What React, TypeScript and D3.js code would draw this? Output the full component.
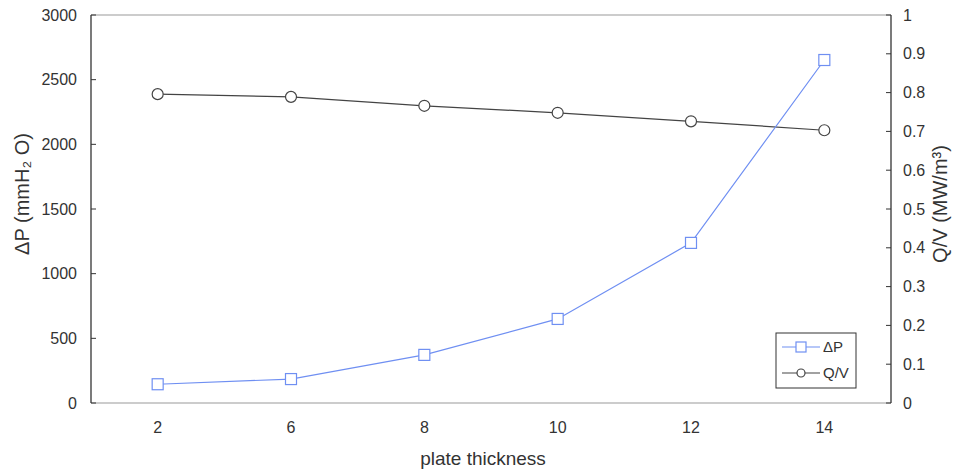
import * as d3 from "d3";

const thickness = ["2", "6", "8", "10", "12", "14"];
const deltaP = [145, 185, 372, 650, 1238, 2652];
const qv = [0.796, 0.789, 0.766, 0.748, 0.726, 0.703];
const leftTicks = [0, 500, 1000, 1500, 2000, 2500, 3000];
const rightTicks = [0, 0.1, 0.2, 0.3, 0.4, 0.5, 0.6, 0.7, 0.8, 0.9, 1];

export default function App() {
  const width = 953;
  const height = 473;
  const margin = { top: 15, right: 62, bottom: 70, left: 91 };
  const innerW = width - margin.left - margin.right;
  const innerH = height - margin.top - margin.bottom;

  const x = d3.scalePoint().domain(thickness).range([0, innerW]).padding(0.5);
  const yL = d3.scaleLinear().domain([0, 3000]).range([innerH, 0]);
  const yR = d3.scaleLinear().domain([0, 1]).range([innerH, 0]);

  const lineP = d3
    .line<number>()
    .x((_, i) => x(thickness[i])!)
    .y((d) => yL(d));
  const lineQ = d3
    .line<number>()
    .x((_, i) => x(thickness[i])!)
    .y((d) => yR(d));

  const blue = "#6f8ff2";
  const dark = "#444";
  const font = "'Liberation Sans', Arial, sans-serif";

  return (
    <svg
      width={width}
      height={height}
      style={{ position: "absolute", left: 0, top: 0, background: "#fff" }}
      fontFamily={font}
    >
      <g transform={`translate(${margin.left},${margin.top})`}>
        {/* frame */}
        <line x1={0} x2={innerW} y1={0} y2={0} stroke="#999" />
        <line x1={0} x2={innerW} y1={innerH} y2={innerH} stroke="#999" />
        <line x1={0} x2={0} y1={0} y2={innerH} stroke="#333" strokeWidth={1.3} />
        <line x1={innerW} x2={innerW} y1={0} y2={innerH} stroke="#333" strokeWidth={1.3} />

        {leftTicks.map((t) => (
          <g key={t} transform={`translate(0,${yL(t)})`}>
            <line x1={0} x2={5} stroke="#333" />
            <text x={-14} dy="0.35em" textAnchor="end" fontSize={16} fill="#333">
              {t}
            </text>
          </g>
        ))}
        {rightTicks.map((t) => (
          <g key={t} transform={`translate(${innerW},${yR(t)})`}>
            <line x1={-5} x2={0} stroke="#333" />
            <text x={12} dy="0.35em" textAnchor="start" fontSize={16} fill="#333">
              {d3.format("~g")(t)}
            </text>
          </g>
        ))}
        {thickness.map((t) => (
          <text
            key={t}
            x={x(t)}
            y={innerH + 30}
            textAnchor="middle"
            fontSize={16}
            fill="#333"
          >
            {t}
          </text>
        ))}

        {/* series */}
        <path d={lineQ(qv)!} fill="none" stroke={dark} strokeWidth={1.2} />
        {qv.map((d, i) => (
          <circle
            key={i}
            cx={x(thickness[i])}
            cy={yR(d)}
            r={5.5}
            fill="#fff"
            stroke={dark}
            strokeWidth={1.2}
          />
        ))}
        <path d={lineP(deltaP)!} fill="none" stroke={blue} strokeWidth={1.2} />
        {deltaP.map((d, i) => (
          <rect
            key={i}
            x={x(thickness[i])! - 5.5}
            y={yL(d) - 5.5}
            width={11}
            height={11}
            fill="#fff"
            stroke={blue}
            strokeWidth={1.2}
          />
        ))}

        {/* legend */}
        <g transform={`translate(${685},${318})`}>
          <rect x={0} y={0} width={80} height={55} fill="#fff" stroke="#333" />
          <line x1={6} x2={44} y1={14} y2={14} stroke={blue} strokeWidth={1.2} />
          <rect x={20} y={9} width={10} height={10} fill="#fff" stroke={blue} strokeWidth={1.2} />
          <text x={47} y={14} dy="0.35em" fontSize={15} fill="#333">ΔP</text>
          <line x1={6} x2={44} y1={40} y2={40} stroke={dark} strokeWidth={1.2} />
          <circle cx={25} cy={40} r={4} fill="#fff" stroke={dark} strokeWidth={1.2} />
          <text x={47} y={40} dy="0.35em" fontSize={15} fill="#333">Q/V</text>
        </g>
      </g>

      <text
        transform="translate(29,194) rotate(-90)"
        textAnchor="middle"
        fontSize={20}
        fill="#333"
      >
        ΔP (mmH₂ O)
      </text>
      <text
        transform="translate(947,204) rotate(-90)"
        textAnchor="middle"
        fontSize={20}
        fill="#333"
      >
        Q/V (MW/m³)
      </text>
      <text
        x={483}
        y={465}
        textAnchor="middle"
        fontSize={19}
        fill="#333"
      >
        plate thickness
      </text>
    </svg>
  );
}
